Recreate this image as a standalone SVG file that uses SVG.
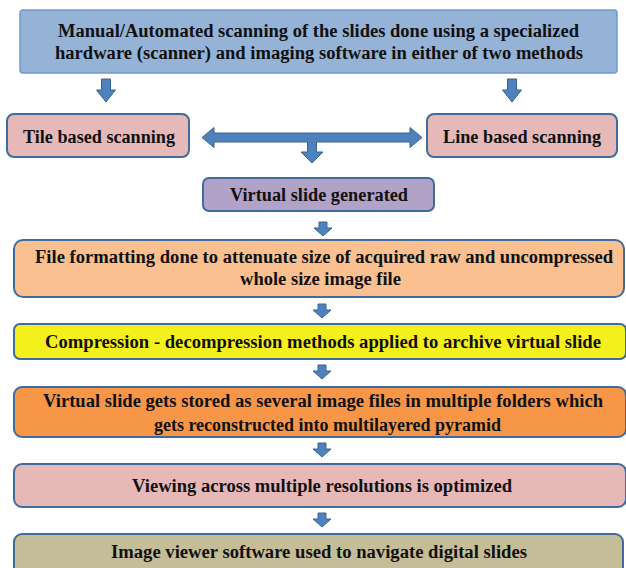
<svg xmlns="http://www.w3.org/2000/svg" xmlns:xlink="http://www.w3.org/1999/xlink" width="626" height="568" viewBox="0 0 626 568">
  <style>
    .box { stroke: #3f6b9e; stroke-width: 2; }
    .arrow { fill: #4f81bd; stroke: #3a6494; stroke-width: 1; }
    .t { font-family: "Liberation Serif", "Times New Roman", serif; font-weight: bold; font-size: 18px; fill: #111111; text-anchor: middle; }
  </style>
  <defs>
    <!-- small block arrow pointing down, origin at the top of the shaft -->
    <path id="down" d="M-4,0 h8 v6 h5 l-9,8 l-9,-8 h5 z"/>
    <!-- taller block arrow used under the first step -->
    <path id="downTall" d="M-4.5,0 h9 v11 h5 l-9.5,12 l-9.5,-12 h5 z"/>
  </defs>
  <rect width="626" height="568" fill="#ffffff"/>

  <g id="scan">
    <rect x="20" y="10" width="597" height="63" rx="3" fill="#95b3d7" stroke="#7399c9" stroke-width="1.5"/>
    <text class="t" x="318.5" y="37" textLength="521" lengthAdjust="spacingAndGlyphs">Manual/Automated  scanning of the slides done using a specialized</text>
    <text class="t" x="319" y="59" textLength="528" lengthAdjust="spacingAndGlyphs">hardware  (scanner)  and  imaging  software  in  either  of two  methods</text>
  </g>

  <g id="tile">
    <rect class="box" x="7" y="114" width="182" height="43" rx="7" fill="#e6b9b8"/>
    <text class="t" x="99" y="143" textLength="152" lengthAdjust="spacingAndGlyphs">Tile based  scanning</text>
  </g>

  <g id="line">
    <rect class="box" x="427" y="114" width="190" height="43" rx="7" fill="#e6b9b8"/>
    <text class="t" x="522" y="143" textLength="158" lengthAdjust="spacingAndGlyphs">Line based scanning</text>
  </g>

  <g id="virtual">
    <rect class="box" x="203" y="178" width="231" height="33" rx="6" fill="#b3a2c7"/>
    <text class="t" x="319" y="201" textLength="178" lengthAdjust="spacingAndGlyphs">Virtual slide generated</text>
  </g>

  <g id="formatting">
    <rect class="box" x="14" y="240" width="610" height="57" rx="9" fill="#fac090"/>
    <text class="t" x="324" y="263" textLength="578" lengthAdjust="spacingAndGlyphs">File formatting done to attenuate size of acquired raw and uncompressed</text>
    <text class="t" x="320.5" y="285" textLength="161" lengthAdjust="spacingAndGlyphs">whole size image file</text>
  </g>

  <g id="compression">
    <rect class="box" x="14" y="324" width="612" height="35" rx="6" fill="#f4f01e"/>
    <text class="t" x="323" y="348" textLength="556" lengthAdjust="spacingAndGlyphs">Compression - decompression methods applied to archive virtual slide</text>
  </g>

  <g id="storage">
    <rect class="box" x="14" y="387" width="612" height="50" rx="8" fill="#f79646"/>
    <text class="t" x="323" y="407" textLength="560" lengthAdjust="spacingAndGlyphs">Virtual slide gets stored as several image files in multiple folders which</text>
    <text class="t" x="327.5" y="431" textLength="347" lengthAdjust="spacingAndGlyphs">gets reconstructed into multilayered  pyramid</text>
  </g>

  <g id="viewing">
    <rect class="box" x="14" y="464" width="612" height="43" rx="8" fill="#e6b9b8"/>
    <text class="t" x="322" y="492" textLength="380" lengthAdjust="spacingAndGlyphs">Viewing across multiple  resolutions is optimized</text>
  </g>

  <g id="viewer">
    <rect class="box" x="14" y="534" width="609" height="44" rx="8" fill="#c4bd97"/>
    <text class="t" x="319" y="558" textLength="416" lengthAdjust="spacingAndGlyphs">Image viewer software used to navigate digital slides</text>
  </g>

  <g id="connectors">
    <use href="#downTall" xlink:href="#downTall" class="arrow" transform="translate(106,79)"/>
    <use href="#downTall" xlink:href="#downTall" class="arrow" transform="translate(512,79)"/>
    <!-- double-headed arrow between the two scanning methods, with a stub down to the virtual slide -->
    <path class="arrow" d="M202,137.5 L214,127.5 V133 H410 V127.5 L422,137.5 L410,147.5 V142 H316.5 V152 H323 L312,163 L301,152 H307.5 V142 H214 V147.5 Z"/>
    <use href="#down" xlink:href="#down" class="arrow" transform="translate(323,222)"/>
    <use href="#down" xlink:href="#down" class="arrow" transform="translate(322,304)"/>
    <use href="#down" xlink:href="#down" class="arrow" transform="translate(322,365)"/>
    <use href="#down" xlink:href="#down" class="arrow" transform="translate(322,443)"/>
    <use href="#down" xlink:href="#down" class="arrow" transform="translate(322,513)"/>
  </g>
</svg>
